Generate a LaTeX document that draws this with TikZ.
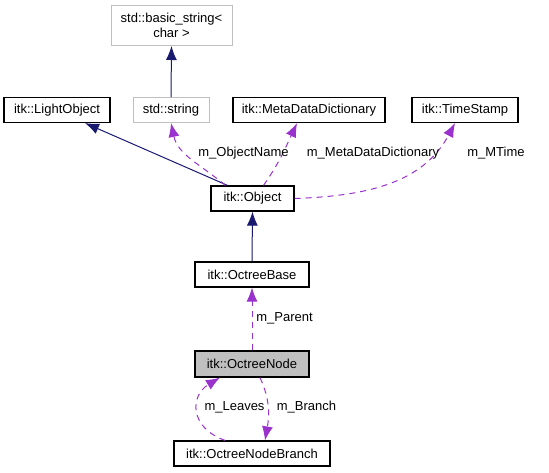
\documentclass[tikz,border=0pt]{standalone}
\usepackage{fontspec}
\setmainfont{Liberation Sans}
\usepackage{xcolor}
\usepackage{tikz}
\usetikzlibrary{arrows.meta,positioning}
\definecolor{doxnavy}{HTML}{191970}
\definecolor{doxpurple}{HTML}{9A32CD}
\definecolor{doxgray}{HTML}{BFBFBF}
\tikzset{
  doxclass/.style={
    draw=black,
    line width=1.2pt,
    rectangle,
    align=center,
    inner sep=2pt,
    minimum height=25pt
  },
  doxextern/.style={doxclass,draw=doxgray,line width=1pt},
  doxfocus/.style={doxclass,fill=doxgray},
  doxinherit/.style={-{Latex[length=14pt,width=11pt]},line width=1pt,doxnavy},
  doxusage/.style={-{Latex[length=14pt,width=11pt]},line width=1pt,dashed,
                   dash pattern=on 6pt off 5pt,doxpurple},
  doxlabel/.style={inner sep=1pt}
}

\begin{document}
\begin{tikzpicture}[x=1pt,y=1pt,font=\fontsize{13}{15}\selectfont]
  \useasboundingbox (0,0) rectangle (549,472);

  \node[doxextern,minimum width=121pt,minimum height=40pt] (basicstr) at (171.5,446.5)
    {std::basic\_string<\\char >};
  \node[doxclass,minimum width=106pt] (lightobj) at (57,362) {itk::LightObject};
  \node[doxextern,minimum width=76pt] (stdstring) at (171,362) {std::string};
  \node[doxclass,minimum width=152pt] (metadict) at (309,362) {itk::MetaDataDictionary};
  \node[doxclass,minimum width=106pt] (timestamp) at (465,362) {itk::TimeStamp};
  \node[doxclass,minimum width=83pt] (object) at (252.5,273.5) {itk::Object};
  \node[doxclass,minimum width=114pt] (octbase) at (252,197.5) {itk::OctreeBase};
  \node[doxfocus,minimum width=114pt,minimum height=26pt] (octnode) at (252,108) {itk::OctreeNode};
  \node[doxclass,minimum width=156pt] (octbranch) at (252,18.5) {itk::OctreeNodeBranch};

  \draw[doxinherit] (stdstring.north) -- (basicstr.south);
  \draw[doxinherit] ([xshift=-25pt]object.north) -- ([xshift=28pt]lightobj.south);
  \draw[doxinherit] (octbase.north) -- (object.south);

  \draw[doxusage] ([xshift=-27pt]object.north) to[out=140,in=-78] (stdstring.south);
  \draw[doxusage] ([xshift=11pt]object.north) to[out=55,in=-115] ([xshift=-12pt]metadict.south);
  \draw[doxusage] (object.east) to[out=2,in=-118] ([xshift=-10pt]timestamp.south);
  \draw[doxusage] (octnode.north) -- (octbase.south);
  \draw[doxusage] ([xshift=8pt]octnode.south) to[out=-65,in=80] ([xshift=13pt]octbranch.north);
  \draw[doxusage] ([xshift=-27pt]octbranch.north)
    .. controls +(-36,13) and +(-30,-18) .. ([xshift=-32pt]octnode.south);

  \node[doxlabel] (lblname) at (243.5,319) {m\_ObjectName};
  \node[doxlabel] (lbldict) at (373,319) {m\_MetaDataDictionary};
  \node[doxlabel] (lbltime) at (496,319) {m\_MTime};
  \node[doxlabel] (lblparent) at (284.5,154) {m\_Parent};
  \node[doxlabel] (lblleaves) at (234.5,65) {m\_Leaves};
  \node[doxlabel] (lblbranch) at (306.5,65) {m\_Branch};
\end{tikzpicture}
\end{document}
